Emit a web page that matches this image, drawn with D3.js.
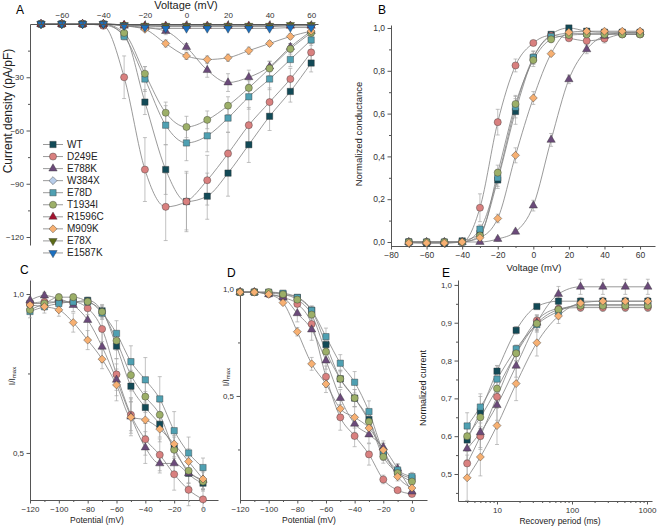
<!DOCTYPE html>
<html>
<head>
<meta charset="utf-8">
<script src="https://d3js.org/d3.v7.min.js"></script>
<style>
  body { margin: 0; background: #fff; }
  svg { font-family: "Liberation Sans", Arial, sans-serif; }
  .axis path, .axis line { stroke: #555; stroke-width: 1; }
  .axis text { fill: #333; }
</style>
</head>
<body>
<svg id="fig" width="658" height="527"></svg>
<script>
// series (legend order)
var names  = ["WT", "D249E", "E788K", "W384X", "E78D", "T1934I", "R1596C", "M909K", "E78X", "E1587K"];
var colors = ["#124a57", "#d9807f", "#6b4a7a", "#b8cdea", "#4fa0b2", "#9caf68", "#a3122e", "#f7b072", "#5c6b17", "#1b6fbf"];
var shapes = ["s", "c", "t", "d", "s", "c", "t", "d", "v", "v"];

// A - current density vs voltage
var ivVolt = [-70, -60, -50, -40, -30, -20, -10, 0, 10, 20, 30, 40, 50, 60];
var ivMean = [
  [0, 0, 0, -0.5, -6, -44, -82, -100, -97, -84, -68, -52, -38, -22],
  [0, 0, 0, -1, -30, -82, -103, -100, -88, -73, -57, -44, -31, -16],
  [0, 0, 0, 0, -1, -2, -4, -13, -26, -33, -30, -24, -13, -4],
  [0, 0, 0, 0, -0.5, -1, -1.5, -1.5, -1.5, -1.5, -1.5, -1.5, -1, -1],
  [0, 0, 0, 0, -7, -31, -57, -67, -63, -53, -41, -31, -20, -9],
  [0, 0, 0, 0, -5, -28, -50, -58, -54, -46, -36, -25, -14, -5],
  [0, 0, 0, 0, -0.5, -1, -1, -1, -1, -1, -1, -1, -1, -1],
  [0, 0, 0, 0, -1, -3, -11, -18, -20, -19, -15, -11, -7, -4],
  [0, 0, 0, 0, -0.5, -1, -1, -1, -1, -1, -1, -1, -0.5, -0.5],
  [0, 0, 0, 0, -1, -2, -2.5, -2.5, -2.5, -2.5, -2.5, -2.5, -2, -2]
];
var ivSem = [
  [0, 0, 0, 0.5, 2, 7, 14, 17, 13, 13, 10, 8, 6, 5],
  [0, 0, 0, 0.5, 12, 18, 19, 16, 14, 12, 10, 8, 6, 5],
  [0, 0, 0, 0, 0.5, 1, 2, 2, 4, 5, 4, 3, 2, 2],
  [0, 0, 0, 0, 0.3, 0.3, 0.3, 0.3, 0.3, 0.3, 0.3, 0.3, 0.3, 0.3],
  [0, 0, 0, 0, 2, 7, 11, 10, 9, 8, 7, 6, 4, 3],
  [0, 0, 0, 0, 2, 4, 6, 6, 5, 5, 4, 4, 3, 2],
  [0, 0, 0, 0, 0.3, 0.3, 0.3, 0.3, 0.3, 0.3, 0.3, 0.3, 0.3, 0.3],
  [0, 0, 0, 0, 0.5, 1, 2, 2, 2, 2, 2, 1.5, 1.5, 1],
  [0, 0, 0, 0, 0.3, 0.3, 0.3, 0.3, 0.3, 0.3, 0.3, 0.3, 0.3, 0.3],
  [0, 0, 0, 0, 0.3, 0.3, 0.3, 0.3, 0.3, 0.3, 0.3, 0.3, 0.3, 0.3]
];

// B-E only use the conducting variants: WT, D249E, E788K, E78D, T1934I, M909K
var fitIdx = [0, 1, 2, 4, 5, 7];

// B - normalized conductance
var gVolt = [-70, -60, -50, -40, -30, -20, -10, 0, 10, 20, 30, 40, 50, 60];
var gMean = [
  [0, -0.005, -0.005, 0.005, 0.04, 0.29, 0.61, 0.86, 0.97, 1.0, 0.985, 0.98, 0.98, 0.98],
  [0, 0, 0, 0, 0.16, 0.56, 0.825, 0.93, 0.965, 0.952, 0.94, 0.95, 0.97, 0.97],
  [0, 0, 0, 0, 0, 0.014, 0.048, 0.17, 0.477, 0.76, 0.9, 0.963, 0.978, 0.98],
  [0, 0, 0, 0, 0.06, 0.3, 0.63, 0.863, 0.96, 0.975, 0.975, 0.975, 0.975, 0.975],
  [0, 0, 0, 0, 0.03, 0.324, 0.645, 0.85, 0.947, 0.967, 0.97, 0.97, 0.97, 0.97],
  [-0.005, -0.005, -0.005, 0, 0.02, 0.11, 0.405, 0.673, 0.88, 0.98, 0.985, 0.985, 0.985, 0.985]
];
var gSem = [
  [0.005, 0.005, 0.005, 0.005, 0.02, 0.04, 0.06, 0.03, 0.01, 0.005, 0.01, 0.01, 0.01, 0.01],
  [0.005, 0.005, 0.005, 0.005, 0.065, 0.06, 0.03, 0.01, 0.01, 0.01, 0.015, 0.02, 0.01, 0.01],
  [0.005, 0.005, 0.005, 0.005, 0.005, 0.01, 0.01, 0.025, 0.03, 0.02, 0.02, 0.015, 0.01, 0.01],
  [0.005, 0.005, 0.005, 0.005, 0.02, 0.04, 0.05, 0.03, 0.01, 0.01, 0.01, 0.01, 0.01, 0.01],
  [0.005, 0.005, 0.005, 0.005, 0.015, 0.035, 0.04, 0.03, 0.015, 0.01, 0.01, 0.01, 0.01, 0.01],
  [0.005, 0.005, 0.005, 0.005, 0.01, 0.02, 0.035, 0.03, 0.01, 0.01, 0.01, 0.01, 0.01, 0.01]
];

// C - I/Imax (first protocol)
var cVolt = [-120, -110, -100, -90, -80, -70, -60, -50, -40, -30, -20, -10, 0];
var cMean = [
  [0.97, 0.97, 0.975, 0.975, 0.98, 0.947, 0.836, 0.71, 0.643, 0.59, 0.515, 0.436, 0.405],
  [0.97, 0.975, 0.975, 0.975, 0.955, 0.89, 0.747, 0.62, 0.543, 0.494, 0.433, 0.384, 0.354],
  [0.98, 0.995, 0.985, 0.965, 0.918, 0.834, 0.73, 0.614, 0.517, 0.467, 0.467, 0.436, 0.415],
  [0.945, 0.96, 0.97, 0.975, 0.975, 0.94, 0.876, 0.787, 0.73, 0.67, 0.57, 0.5, 0.454],
  [0.95, 0.97, 0.99, 0.99, 0.976, 0.944, 0.853, 0.745, 0.677, 0.62, 0.51, 0.444, 0.41],
  [0.965, 0.96, 0.95, 0.91, 0.855, 0.795, 0.714, 0.612, 0.604, 0.575, 0.528, 0.473, 0.418]
];
var cSem = [
  [0.01, 0.01, 0.01, 0.01, 0.01, 0.02, 0.04, 0.05, 0.05, 0.04, 0.04, 0.03, 0.02],
  [0.01, 0.01, 0.01, 0.01, 0.02, 0.04, 0.05, 0.05, 0.05, 0.05, 0.05, 0.05, 0.03],
  [0.01, 0.01, 0.01, 0.02, 0.06, 0.05, 0.05, 0.06, 0.05, 0.03, 0.04, 0.04, 0.03],
  [0.02, 0.01, 0.01, 0.01, 0.01, 0.02, 0.04, 0.05, 0.07, 0.07, 0.06, 0.05, 0.03],
  [0.01, 0.01, 0.01, 0.01, 0.01, 0.02, 0.03, 0.05, 0.05, 0.04, 0.04, 0.04, 0.03],
  [0.02, 0.02, 0.02, 0.03, 0.03, 0.03, 0.05, 0.05, 0.05, 0.04, 0.04, 0.04, 0.03]
];

// D - I/Imax (second protocol)
var dVolt = [-120, -110, -100, -90, -80, -70, -60, -50, -40, -30, -20, -10, 0];
var dMean = [
  [0.985, 0.985, 0.98, 0.975, 0.96, 0.9, 0.74, 0.58, 0.49, 0.39, 0.23, 0.146, 0.115],
  [0.985, 0.985, 0.975, 0.96, 0.93, 0.836, 0.59, 0.4, 0.313, 0.227, 0.11, 0.06, 0.042],
  [0.985, 0.985, 0.975, 0.96, 0.886, 0.81, 0.665, 0.49, 0.37, 0.32, 0.26, 0.16, 0.053],
  [0.985, 0.985, 0.985, 0.98, 0.96, 0.9, 0.777, 0.653, 0.564, 0.427, 0.24, 0.154, 0.123],
  [0.985, 0.985, 0.985, 0.975, 0.95, 0.88, 0.707, 0.58, 0.49, 0.38, 0.216, 0.14, 0.1],
  [0.985, 0.985, 0.975, 0.936, 0.8, 0.65, 0.556, 0.44, 0.4, 0.35, 0.248, 0.123, 0.07]
];
var dSem = [
  [0.01, 0.01, 0.01, 0.01, 0.01, 0.02, 0.03, 0.04, 0.04, 0.04, 0.03, 0.02, 0.01],
  [0.01, 0.01, 0.01, 0.01, 0.01, 0.03, 0.05, 0.06, 0.05, 0.05, 0.02, 0.01, 0.01],
  [0.01, 0.01, 0.01, 0.01, 0.04, 0.05, 0.04, 0.04, 0.04, 0.04, 0.03, 0.02, 0.01],
  [0.01, 0.01, 0.01, 0.01, 0.01, 0.02, 0.04, 0.04, 0.05, 0.05, 0.04, 0.03, 0.02],
  [0.01, 0.01, 0.01, 0.01, 0.01, 0.02, 0.03, 0.04, 0.04, 0.04, 0.03, 0.02, 0.01],
  [0.01, 0.01, 0.01, 0.01, 0.02, 0.03, 0.04, 0.04, 0.05, 0.04, 0.03, 0.02, 0.01]
];

// E - recovery from inactivation
var eTime = [4, 6, 10, 18, 34, 66, 130, 258, 514, 1026];
var eMean = [
  [0.59, 0.665, 0.772, 0.88, 0.943, 0.957, 0.957, 0.957, 0.957, 0.957],
  [0.528, 0.6, 0.704, 0.82, 0.906, 0.937, 0.94, 0.94, 0.94, 0.94],
  [0.567, 0.61, 0.682, 0.786, 0.9, 0.976, 0.995, 0.995, 0.995, 0.995],
  [0.627, 0.677, 0.751, 0.831, 0.895, 0.93, 0.948, 0.948, 0.948, 0.948],
  [0.6, 0.65, 0.726, 0.819, 0.898, 0.935, 0.945, 0.945, 0.945, 0.945],
  [0.49, 0.545, 0.628, 0.739, 0.847, 0.918, 0.952, 0.957, 0.957, 0.957]
];
var eSem = [
  [0.03, 0.04, 0.015, 0.01, 0.005, 0.01, 0.01, 0.01, 0.01, 0.01],
  [0.035, 0.035, 0.03, 0.02, 0.015, 0.01, 0.01, 0.01, 0.01, 0.01],
  [0.03, 0.04, 0.04, 0.03, 0.02, 0.02, 0.02, 0.02, 0.02, 0.02],
  [0.035, 0.035, 0.035, 0.01, 0.02, 0.02, 0.01, 0.01, 0.01, 0.01],
  [0.03, 0.03, 0.03, 0.02, 0.02, 0.01, 0.01, 0.01, 0.01, 0.01],
  [0.06, 0.05, 0.05, 0.045, 0.035, 0.02, 0.01, 0.01, 0.01, 0.01]
];

var svg = d3.select("#fig");
svg.append("rect").attr("width", 658).attr("height", 527).attr("fill", "#fff");

function comma(d) { return d3.format(".1f")(d).replace(".", ","); }

function symPath(k) {
  var s = shapes[k];
  if (s == "s") return d3.symbol(d3.symbolSquare, 40)();
  if (s == "c") return d3.symbol(d3.symbolCircle, 40)();
  if (s == "d") return d3.symbol(d3.symbolSquare, 32)();
  return d3.symbol(d3.symbolTriangle, 30)();
}
function symRot(k) {
  if (shapes[k] == "d") return 45;
  if (shapes[k] == "v") return 180;
  return 0;
}

// major + minor ticks, origin style
function axis(orient, scale, major, minor, fmt, tx, ty, fs) {
  var make = { bottom: d3.axisBottom, top: d3.axisTop, left: d3.axisLeft }[orient];
  var gmin = svg.append("g").attr("class", "axis")
    .attr("transform", "translate(" + tx + "," + ty + ")")
    .call(make(scale).tickValues(minor).tickSize(2).tickSizeOuter(0).tickFormat(""));
  gmin.select(".domain").remove();
  var gmaj = svg.append("g").attr("class", "axis")
    .attr("transform", "translate(" + tx + "," + ty + ")")
    .call(make(scale).tickValues(major).tickSize(3.5).tickSizeOuter(0).tickPadding(2.5).tickFormat(fmt));
  gmaj.selectAll("text").style("font-size", fs + "px");
  return gmaj;
}

function plot(x, y, xs, means, sems, idxs) {
  var g = svg.append("g");
  var line = d3.line()
    .x(function (d, i) { return x(xs[i]); })
    .y(function (d) { return y(d); })
    .curve(d3.curveMonotoneX);
  idxs.forEach(function (k, j) {
    g.append("path").attr("d", line(means[j]))
      .attr("fill", "none").attr("stroke", "#808080").attr("stroke-width", 0.8);
  });
  idxs.forEach(function (k, j) {
    means[j].forEach(function (m, i) {
      var s = sems[j][i];
      if (!s) return;
      var px = x(xs[i]);
      g.append("path")
        .attr("d", "M" + (px - 2) + "," + y(m + s) + "H" + (px + 2) +
                   "M" + px + "," + y(m + s) + "V" + y(m - s) +
                   "M" + (px - 2) + "," + y(m - s) + "H" + (px + 2))
        .attr("fill", "none").attr("stroke", "#a8a8a8").attr("stroke-width", 0.7);
    });
  });
  idxs.forEach(function (k, j) {
    g.selectAll(null).data(means[j]).enter().append("path")
      .attr("d", symPath(k))
      .attr("transform", function (d, i) {
        return "translate(" + x(xs[i]) + "," + y(d) + ") rotate(" + symRot(k) + ")";
      })
      .attr("fill", colors[k]).attr("stroke", "#333").attr("stroke-width", 0.4);
  });
}

function label(txt, x, y, fs, rot) {
  var t = svg.append("text").attr("x", x).attr("y", y)
    .attr("text-anchor", "middle").style("font-size", fs + "px").attr("fill", "#222").text(txt);
  if (rot) t.attr("transform", "rotate(-90," + x + "," + y + ")").attr("dominant-baseline", "central");
  return t;
}
function imaxLabel(x, y) {
  var t = svg.append("text").attr("x", x).attr("y", y)
    .attr("transform", "rotate(-90," + x + "," + y + ")").attr("dominant-baseline", "central")
    .attr("text-anchor", "middle").style("font-size", "8.5px").attr("fill", "#222");
  t.append("tspan").text("I/I");
  t.append("tspan").attr("dy", 2).style("font-size", "6px").text("max");
}

// ---------- A ----------
var xA = d3.scaleLinear().domain([-75.3, 63.3]).range([30, 318]);
var yA = d3.scaleLinear().domain([0, -124.5]).range([24, 245]);
axis("left", yA, [-30, -60, -90, -120], [-15, -45, -75, -105], d3.format("d"), 30, 0, 8);
plot(xA, yA, ivVolt, ivMean, ivSem, d3.range(names.length));
axis("top", xA, [-60, -40, -20, 0, 20, 40, 60], [-70, -50, -30, -10, 10, 30, 50], d3.format("d"), 0, 24, 8);
label("Voltage (mV)", 186, 9, 11);
label("Current density (pA/pF)", 8, 111, 12, true);
svg.append("text").attr("x", 16).attr("y", 14).style("font-size", "12px").text("A");

// legend
names.forEach(function (n, k) {
  var ly = 144.5 + k * 12.05;
  svg.append("line").attr("x1", 43).attr("x2", 63).attr("y1", ly).attr("y2", ly)
    .attr("stroke", "#808080").attr("stroke-width", 0.8);
  svg.append("path").attr("d", symPath(k))
    .attr("transform", "translate(53," + ly + ") rotate(" + symRot(k) + ")")
    .attr("fill", colors[k]).attr("stroke", "#333").attr("stroke-width", 0.4);
  svg.append("text").attr("x", 67).attr("y", ly).attr("dominant-baseline", "central")
    .style("font-size", "10px").attr("fill", "#222").text(n);
});

// ---------- B ----------
var xB = d3.scaleLinear().domain([-80, 68.4]).range([391, 655]);
var yB = d3.scaleLinear().domain([-0.0187, 1.014]).range([246, 25]);
axis("bottom", xB, [-80, -60, -40, -20, 0, 20, 40, 60], [-70, -50, -30, -10, 10, 30, 50], d3.format("d"), 0, 246, 8.5);
axis("left", yB, [0, 0.2, 0.4, 0.6, 0.8, 1.0], [0.1, 0.3, 0.5, 0.7, 0.9], comma, 391, 0, 8.5);
plot(xB, yB, gVolt, gMean, gSem, fitIdx);
label("Normalized conductance", 358, 134, 9.5, true);
label("Voltage (mV)", 534, 271, 9.5);
svg.append("text").attr("x", 378).attr("y", 14).style("font-size", "12px").text("B");

// ---------- C ----------
var xC = d3.scaleLinear().domain([-120, 10.4]).range([30, 218]);
var yC = d3.scaleLinear().domain([0.352, 1.044]).range([500, 280]);
axis("bottom", xC, [-120, -100, -80, -60, -40, -20, 0], [-110, -90, -70, -50, -30, -10], d3.format("d"), 0, 500, 8);
axis("left", yC, [0.5, 1.0], [0.75], comma, 30, 0, 8);
plot(xC, yC, cVolt, cMean, cSem, fitIdx);
label("Potential (mV)", 97, 523, 8.5);
imaxLabel(12, 376);
svg.append("text").attr("x", 20).attr("y", 274).style("font-size", "12px").text("C");

// ---------- D ----------
var xD = d3.scaleLinear().domain([-120, 10.5]).range([240, 427]);
var yD = d3.scaleLinear().domain([0.014, 1.009]).range([500, 287]);
axis("bottom", xD, [-120, -100, -80, -60, -40, -20, 0], [-110, -90, -70, -50, -30, -10], d3.format("d"), 0, 500, 8);
axis("left", yD, [0.5, 1.0], [0.25, 0.75], comma, 240, 0, 8);
plot(xD, yD, dVolt, dMean, dSem, fitIdx);
label("Potential (mV)", 309, 523, 8.5);
imaxLabel(226, 377);
svg.append("text").attr("x", 227).attr("y", 277).style("font-size", "12px").text("D");

// ---------- E ----------
var xE = d3.scaleLog().domain([3.02, 1166]).range([458, 652]);
var yE = d3.scaleLinear().domain([0.4286, 1.013]).range([501, 280]);
axis("bottom", xE, [10, 100, 1000],
  [4, 5, 6, 7, 8, 9, 20, 30, 40, 50, 60, 70, 80, 90, 200, 300, 400, 500, 600, 700, 800, 900],
  d3.format("d"), 0, 501, 8);
axis("left", yE, [0.5, 0.6, 0.7, 0.8, 0.9, 1.0], [0.45, 0.55, 0.65, 0.75, 0.85, 0.95], comma, 458, 0, 8);
plot(xE, yE, eTime, eMean, eSem, fitIdx);
label("Recovery period (ms)", 560, 523.5, 8.5);
label("Normalized current", 423, 388, 9, true);
svg.append("text").attr("x", 442).attr("y", 277).style("font-size", "12px").text("E");
</script>
</body>
</html>
